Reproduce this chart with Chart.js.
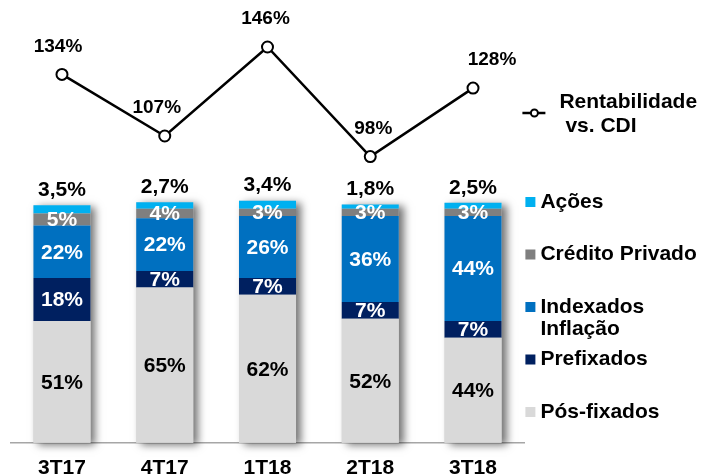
<!DOCTYPE html>
<html>
<head>
<meta charset="utf-8">
<script src="https://cdn.jsdelivr.net/npm/chart.js@4.4.0/dist/chart.umd.min.js"></script>
<style>
    html, body { margin: 0; padding: 0; background: #fff; }
    .chart-container { position: relative; width: 702px; height: 474px; }
</style>
</head>
<body>
<div class="chart-container">
    <canvas id="carteira" width="702" height="474"></canvas>
</div>
<script>
const quarters = ['3T17', '4T17', '1T18', '2T18', '3T18'];

// composition of the portfolio, % of total
const posFixados = [51, 65, 62, 52, 44];
const prefixados = [18, 7, 7, 7, 7];
const indexadosInflacao = [22, 22, 26, 36, 44];
const creditoPrivado = [5, 4, 3, 3, 3];
const acoes = [3.5, 2.7, 3.4, 1.8, 2.5];

// return vs. CDI, %
const rentabilidadeCdi = [134, 107, 146, 98, 128];

const FONT = '"Liberation Sans", Arial, sans-serif';

function pct(v) {
    return String(v).replace('.', ',') + '%';
}

// soft shadow to the right of every stacked column
const barShadow = {
    id: 'barShadow',
    beforeDatasetsDraw(chart) {
        const ctx = chart.ctx;
        const bars = chart.data.datasets
            .map((ds, i) => chart.getDatasetMeta(i))
            .filter(meta => meta.type === 'bar');
        ctx.save();
        ctx.shadowColor = 'rgba(0, 0, 0, 0.55)';
        ctx.shadowBlur = 8;
        ctx.shadowOffsetX = 5;
        ctx.shadowOffsetY = 2;
        ctx.fillStyle = '#d9d9d9';
        quarters.forEach((q, j) => {
            const first = bars[0].data[j];
            const top = Math.min(...bars.map(meta => meta.data[j].y));
            ctx.fillRect(first.x - first.width / 2, top, first.width, first.base - top);
        });
        ctx.restore();
    }
};

// values inside the segments, Ações above the column, return above the line points
const valueLabels = {
    id: 'valueLabels',
    afterDatasetsDraw(chart, args, opts) {
        const ctx = chart.ctx;
        ctx.save();
        ctx.textAlign = 'center';
        ctx.textBaseline = 'middle';
        chart.data.datasets.forEach((ds, i) => {
            const meta = chart.getDatasetMeta(i);
            meta.data.forEach((el, j) => {
                const v = ds.data[j];
                if (meta.type === 'line') {
                    ctx.font = 'bold 19px ' + FONT;
                    ctx.fillStyle = '#000';
                    ctx.fillText(pct(v), el.x + opts.lineNudge[j], el.y - 28);
                } else if (ds.labelAbove) {
                    ctx.font = 'bold 21px ' + FONT;
                    ctx.fillStyle = '#000';
                    ctx.fillText(pct(v), el.x, el.y - 15);
                } else {
                    ctx.font = 'bold 21px ' + FONT;
                    ctx.fillStyle = ds.labelColor;
                    ctx.fillText(pct(v), el.x, (el.y + el.base) / 2 + 1);
                }
            });
        });
        ctx.restore();
    }
};

// legend on the right side
const sideLegend = {
    id: 'sideLegend',
    afterDraw(chart) {
        const ctx = chart.ctx;
        const x0 = chart.chartArea.right;
        ctx.save();
        ctx.font = 'bold 21px ' + FONT;
        ctx.textBaseline = 'middle';
        ctx.textAlign = 'left';
        ctx.fillStyle = '#000';

        // line marker
        ctx.strokeStyle = '#000';
        ctx.lineWidth = 2.5;
        ctx.beginPath();
        ctx.moveTo(x0 - 2, 113);
        ctx.lineTo(x0 + 21, 113);
        ctx.stroke();
        ctx.beginPath();
        ctx.arc(x0 + 10, 113, 3.5, 0, Math.PI * 2);
        ctx.fillStyle = '#fff';
        ctx.fill();
        ctx.lineWidth = 2;
        ctx.stroke();
        ctx.fillStyle = '#000';
        ctx.fillText('Rentabilidade', x0 + 35, 102);
        ctx.fillText('vs. CDI', x0 + 41, 126);

        const items = chart.data.datasets.filter(ds => ds.type === 'bar').reverse();
        items.forEach((ds, k) => {
            const y = 202 + k * 52.5;
            ctx.fillStyle = ds.backgroundColor;
            ctx.fillRect(x0 + 1, y - 5, 10, 10);
            ctx.fillStyle = '#000';
            ds.label.split('\n').forEach((line, n) => {
                ctx.fillText(line, x0 + 16, y + n * 22);
            });
        });
        ctx.restore();
    }
};

function createChartData() {
    const bar = (label, data, color, labelColor) => ({
        type: 'bar',
        label: label,
        data: data,
        backgroundColor: color,
        labelColor: labelColor,
        yAxisID: 'y',
        stack: 'carteira',
        order: 1,
        barPercentage: 0.555,
        categoryPercentage: 1
    });
    const top = bar('Ações', acoes, '#00b0f0', '#fff');
    top.labelAbove = true;
    return {
        labels: quarters,
        datasets: [
            {
                type: 'line',
                label: 'Rentabilidade vs. CDI',
                data: rentabilidadeCdi,
                yAxisID: 'y2',
                order: 0,
                borderColor: '#000',
                borderWidth: 2.5,
                pointRadius: 5.5,
                pointBorderWidth: 2,
                pointBackgroundColor: '#fff',
                pointBorderColor: '#000',
                tension: 0
            },
            bar('Pós-fixados', posFixados, '#d9d9d9', '#000'),
            bar('Prefixados', prefixados, '#002060', '#fff'),
            bar('Indexados\nInflação', indexadosInflacao, '#0070c0', '#fff'),
            bar('Crédito Privado', creditoPrivado, '#7f7f7f', '#fff'),
            top
        ]
    };
}

function createChartOptions() {
    return {
        responsive: false,
        animation: false,
        layout: {
            // the tick labels run off the bottom edge
            padding: { top: 13, left: 10.6, right: 177.6, bottom: -20 }
        },
        plugins: {
            legend: { display: false },
            tooltip: { enabled: false },
            title: { display: false },
            valueLabels: { lineNudge: [-4, -8, -2, 3, 19] }
        },
        scales: {
            x: {
                grid: { display: false, drawTicks: false },
                border: { display: true, color: '#a6a6a6', width: 1.5 },
                ticks: {
                    color: '#000',
                    padding: 13,
                    font: { family: FONT, size: 21, weight: 'bold' }
                }
            },
            y: {
                display: false,
                stacked: true,
                min: 0,
                max: 180
            },
            y2: {
                display: false,
                min: -27.4,
                max: 160.9
            }
        }
    };
}

new Chart(document.getElementById('carteira'), {
    data: createChartData(),
    options: createChartOptions(),
    plugins: [barShadow, valueLabels, sideLegend]
});
</script>
</body>
</html>
